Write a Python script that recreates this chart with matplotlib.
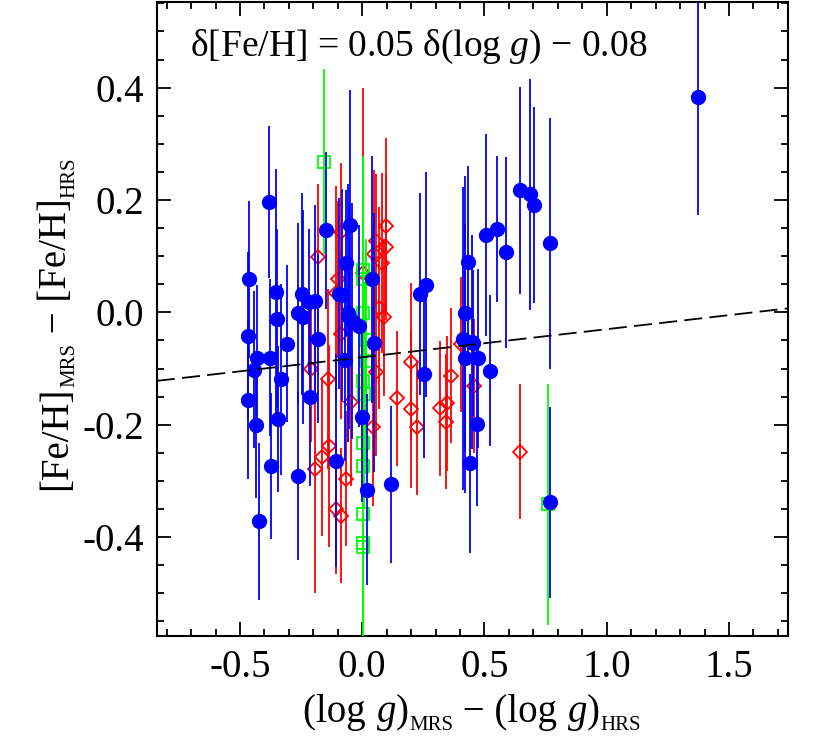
import numpy as np
import matplotlib
matplotlib.use("Agg")
import matplotlib.pyplot as plt
from matplotlib.ticker import MultipleLocator

plt.rcParams['font.family'] = ['Liberation Serif', 'DejaVu Serif']
plt.rcParams['mathtext.fontset'] = 'custom'
plt.rcParams['mathtext.rm'] = 'Liberation Serif'
plt.rcParams['mathtext.it'] = 'Liberation Serif:italic'
plt.rcParams['axes.unicode_minus'] = False

# Blue (filled circles): x, y, error
blue_x = [-0.465, -0.467, -0.469, -0.443, -0.432, -0.434, -0.424, -0.380, -0.378, -0.373,
          -0.354, -0.349, -0.346, -0.332, -0.308, -0.264, -0.264, -0.248, -0.244, -0.213,
          -0.217, -0.192, -0.179, -0.149, -0.107, -0.097, -0.084, -0.067, -0.071, -0.060,
          -0.050, -0.054, -0.040, -0.013, -0.003, 0.021, 0.041, 0.048, 0.119, 0.236,
          0.262, 0.252, 0.413, 0.422, 0.422, 0.431, 0.440, 0.449, 0.454, 0.470,
          0.472, 0.507, 0.521, 0.553, 0.589, 0.644, 0.687, 0.701, 0.766, 0.766, 1.374]
blue_y = [0.059, -0.042, -0.156, -0.102, -0.081, -0.201, -0.372, 0.197, -0.081, -0.273,
          0.036, -0.011, -0.190, -0.119, -0.056, -0.291, -0.001, 0.032, -0.008, -0.150,
          0.018, 0.021, -0.047, 0.146, -0.264, 0.033, 0.030, 0.088, -0.084, -0.001,
          0.155, -0.008, -0.015, -0.024, -0.187, -0.316, 0.059, -0.054, -0.306, 0.033,
          0.049, -0.110, -0.047, -0.002, -0.082, 0.090, -0.269, -0.053, -0.054, -0.198,
          -0.082, 0.137, -0.104, 0.148, 0.107, 0.217, 0.210, 0.191, 0.123, -0.338, 0.384]
blue_e = [0.14, 0.15, 0.14, 0.14, 0.13, 0.13, 0.14, 0.135, 0.14, 0.13,
          0.22, 0.16, 0.13, 0.17, 0.14, 0.15, 0.16, 0.18, 0.19, 0.16,
          0.13, 0.17, 0.15, 0.14, 0.19, 0.17, 0.19, 0.13, 0.18, 0.23,
          0.24, 0.20, 0.21, 0.18, 0.15, 0.17, 0.22, 0.23, 0.14, 0.18,
          0.20, 0.15, 0.27, 0.245, 0.24, 0.17, 0.16, 0.19, 0.13, 0.146,
          0.16, 0.18, 0.134, 0.13, 0.17, 0.185, 0.205, 0.175, 0.223, 0.17, 0.21]

# Red (open diamonds)
red_x = [-0.183, -0.088, -0.101, -0.108, -0.210, -0.142, -0.192, -0.166, -0.135, -0.067,
         -0.108, -0.085, 0.096, 0.096, 0.055, 0.048, 0.082, 0.089, 0.068, -0.088,
         0.043, 0.058, -0.048, 0.005, 0.141, 0.200, 0.200, 0.225, 0.317, 0.345,
         0.341, 0.361, 0.402, 0.456, 0.644]
red_y = [0.099, 0.143, 0.059, 0.035, -0.100, -0.119, -0.279, -0.258, -0.238, -0.296,
         -0.350, -0.362, 0.153, 0.117, 0.127, 0.103, 0.088, -0.009, 0.008, -0.039,
         -0.204, -0.106, -0.160, 0.070, -0.153, -0.088, -0.172, -0.205, -0.171, -0.162,
         -0.195, -0.113, -0.057, -0.131, -0.248]
red_e = [0.13, 0.122, 0.14, 0.19, 0.13, 0.16, 0.22, 0.14, 0.18, 0.12,
         0.116, 0.12, 0.158, 0.13, 0.12, 0.15, 0.16, 0.14, 0.18, 0.15,
         0.14, 0.15, 0.15, 0.33, 0.12, 0.14, 0.14, 0.12, 0.12, 0.12,
         0.12, 0.12, 0.12, 0.12, 0.12]

# Green (open squares)
green_x = [-0.158, 0.003, 0.003, 0.003, 0.017, 0.017, 0.003, 0.007, 0.003, 0.003,
           0.003, 0.003, 0.003, 0.759]
green_y = [0.268, 0.075, 0.059, -0.002, -0.049, -0.087, -0.122, -0.146, -0.232, -0.273,
           -0.359, -0.410, -0.418, -0.342]
green_e = [0.165, 0.20, 0.22, 0.19, 0.18, 0.20, 0.20, 0.20, 0.20, 0.20,
           0.20, 0.22, 0.20, 0.215]

fit_slope = 0.05
fit_icpt = -0.08
xlim = (-0.84, 1.74)
ylim = (-0.577, 0.552)

W, H = 830, 755
fig = plt.figure(figsize=(W / 100, H / 100), dpi=100)
ax = fig.add_axes([0.189, 0.157, 0.760, 0.840])

ax.errorbar(red_x, red_y, yerr=red_e, fmt='D', color='#ff0000', mfc='none', mec='#ff0000',
            ms=7, mew=1.3, elinewidth=1.3, capsize=0, zorder=2)
ax.errorbar(green_x, green_y, yerr=green_e, fmt='s', color='#00ff00', mfc='none', mec='#00ff00',
            ms=8.5, mew=1.3, elinewidth=1.3, capsize=0, zorder=3)
ax.errorbar(blue_x, blue_y, yerr=blue_e, fmt='o', color='#0000ff', mfc='#0000ff', mec='#0000ff',
            ms=10, elinewidth=1.3, capsize=0, zorder=4)

lx = np.array(xlim)
ax.plot(lx, fit_slope * lx + fit_icpt, color='black', ls=(0, (10, 4)), lw=1.3, zorder=5)

ax.set_xlim(*xlim)
ax.set_ylim(*ylim)
ax.xaxis.set_major_locator(MultipleLocator(0.5))
ax.xaxis.set_minor_locator(MultipleLocator(0.1))
ax.yaxis.set_major_locator(MultipleLocator(0.2))
ax.yaxis.set_minor_locator(MultipleLocator(0.05))
ax.xaxis.set_major_formatter(plt.FuncFormatter(lambda v, p: f"{v:.1f}"))
ax.yaxis.set_major_formatter(plt.FuncFormatter(lambda v, p: f"{v:.1f}"))
ax.tick_params(which='both', direction='in', top=True, right=True, width=1.3,
               labelsize=28, pad=9)
ax.tick_params(which='major', length=10)
ax.tick_params(which='minor', length=5)
for s in ax.spines.values():
    s.set_linewidth(1.5)

ax.text(0.052, 0.915, 'δ[Fe/H] = 0.05 δ(log $g$) − 0.08', transform=ax.transAxes,
        fontsize=27, ha='left', va='baseline')

# Composite axis labels with small subscripts
renderer = fig.canvas.get_renderer()
MAIN, SUB, SHIFT = 28, 15, 8  # pt, pt, px


def measure(s, size):
    t = fig.text(0, 0, s, fontsize=size)
    w = t.get_window_extent(renderer).width
    t.remove()
    return w


def composite(pieces, center, base, vertical=False):
    widths = [measure(s, size) for s, size, sub in pieces]
    total = sum(widths)
    pos = center - total / 2.0
    for (s, size, sub), w in zip(pieces, widths):
        off = SHIFT if sub else 0
        if not vertical:
            fig.text(pos / W, (base - off) / H, s, fontsize=size, ha='left', va='baseline')
        else:
            fig.text((base + off) / W, pos / H, s, fontsize=size, rotation=90,
                     rotation_mode='anchor', ha='left', va='baseline')
        pos += w


composite([('(log ', MAIN, False), ('$g$', MAIN, False), (')', MAIN, False),
           ('MRS', SUB, True), (' − (log ', MAIN, False), ('$g$', MAIN, False),
           (')', MAIN, False), ('HRS', SUB, True)],
          center=472, base=H - 722)
composite([('[Fe/H]', MAIN, False), ('MRS', SUB, True), (' − [Fe/H]', MAIN, False),
           ('HRS', SUB, True)],
          center=H - 324, base=66, vertical=True)

fig.savefig('out.png', dpi=100)
